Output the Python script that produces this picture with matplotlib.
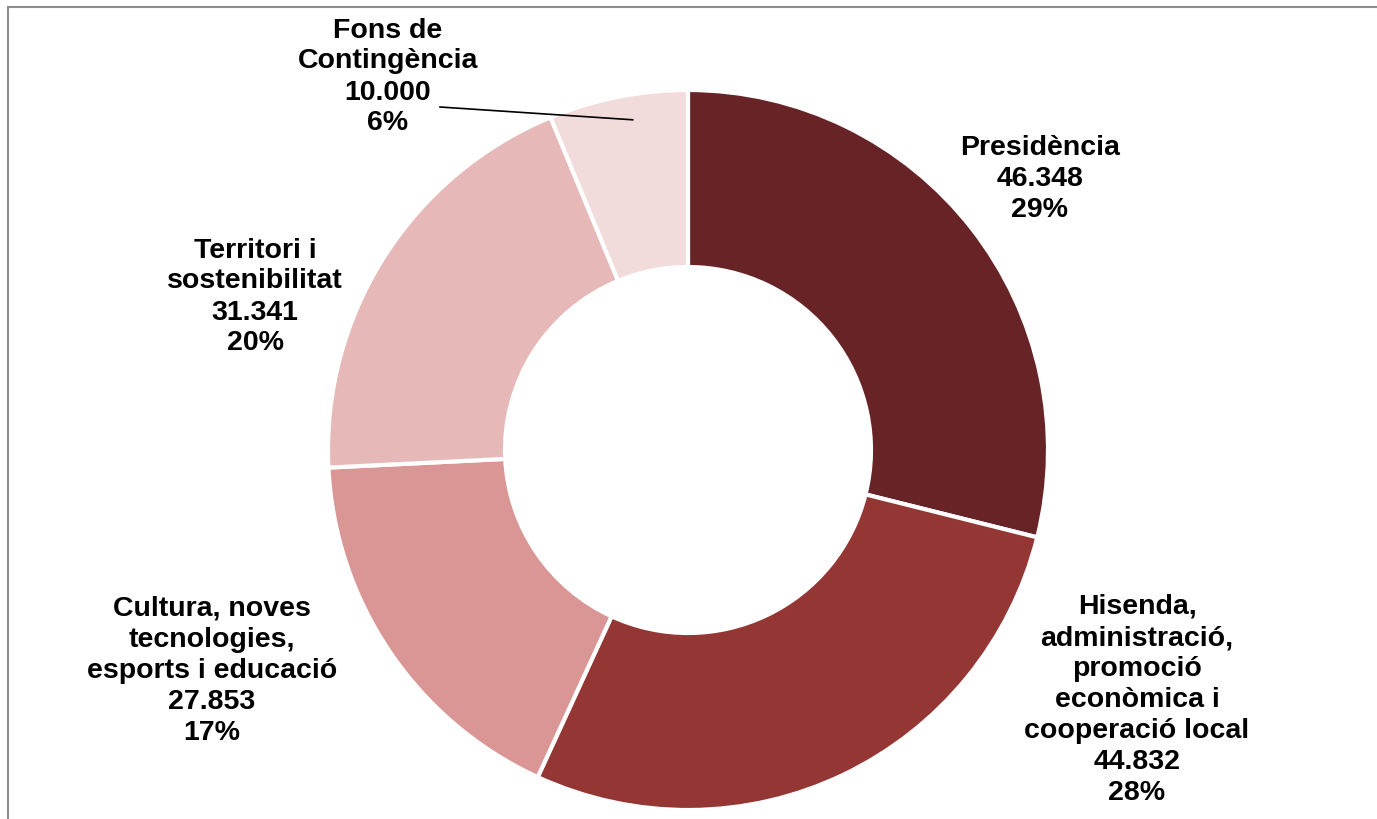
import numpy as np
import matplotlib
matplotlib.use("Agg")
import matplotlib.pyplot as plt
from matplotlib.patches import Rectangle

# Data
labels = ["Presidència",
          "Hisenda,\nadministració,\npromoció\neconòmica i\ncooperació local",
          "Cultura, noves\ntecnologies,\nesports i educació",
          "Territori i\nsostenibilitat",
          "Fons de\nContingència"]
values = [46348, 44832, 27853, 31341, 10000]
colors = ["#672325", "#943634", "#D99694", "#E6B9B8", "#F2DCDB"]

# Label centres in pixels (layout only)
label_pos = [(1040, 179), (1137, 700), (212, 671), (255, 297), (388, 77)]

W, H = 1377, 819
plt.rcParams['font.family'] = ['Liberation Sans', 'DejaVu Sans']

fig = plt.figure(figsize=(W / 100, H / 100), dpi=100)
ax = fig.add_axes([0, 0, 1, 1])

cx, cy, R = 688, H - 450, 360
wedges, _ = ax.pie(values, colors=colors, startangle=90, counterclock=False,
                   center=(cx, cy), radius=R,
                   wedgeprops=dict(width=177, edgecolor="white", linewidth=3))
ax.set_xlim(0, W)
ax.set_ylim(0, H)
ax.set_aspect("equal")
ax.axis("off")

total = sum(values)
for i, (lab, v) in enumerate(zip(labels, values)):
    txt = "%s\n%s\n%d%%" % (lab, f"{v:,}".replace(",", "."), round(v / total * 100))
    x, y = label_pos[i]
    ax.text(x, H - y, txt, ha="center", va="center", fontsize=20.5,
            fontweight="bold", linespacing=1.25, color="black")

# leader line for the small slice
w = wedges[-1]
ang = np.deg2rad((w.theta1 + w.theta2) / 2)
px, py = cx + 0.93 * R * np.cos(ang - 0.03), cy + 0.93 * R * np.sin(ang - 0.03)
ax.plot([440, px], [H - 107, py], color="black", linewidth=1.2)

# outer chart frame
fig.patches.append(Rectangle((8 / W, -0.1), 1.2, 1 - 7 / H + 0.1,
                             transform=fig.transFigure, fill=False,
                             edgecolor="#8c8c8c", linewidth=1.5))

fig.savefig("out.png", dpi=100)
